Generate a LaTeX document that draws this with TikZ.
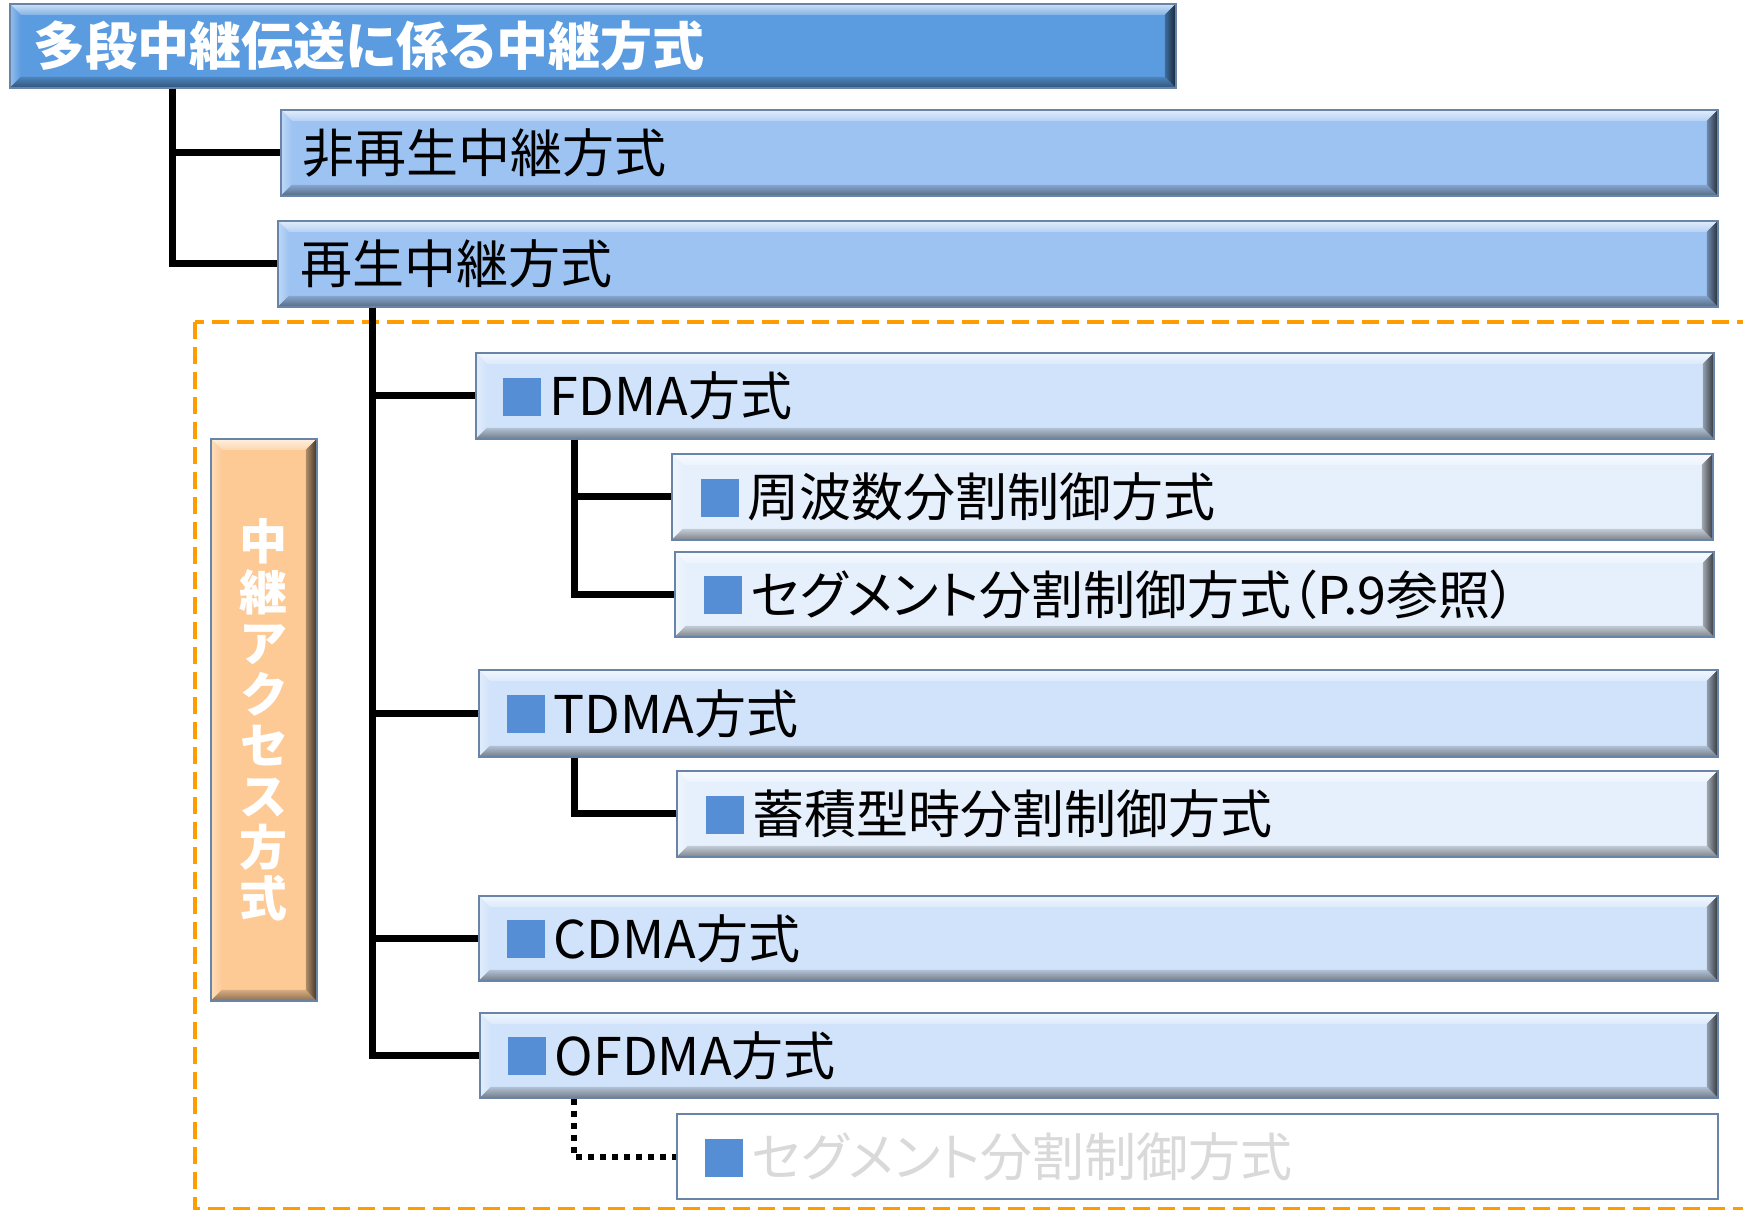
\documentclass[tikz,border=0pt]{standalone}
\usepackage{fontspec}
\setmainfont{Noto Sans CJK JP}[RawFeature=+palt]
\usetikzlibrary{calc}
\definecolor{cTop}{HTML}{5B9BDF}
\definecolor{cOne}{HTML}{9DC3F2}
\definecolor{cTwo}{HTML}{D1E3FA}
\definecolor{cThree}{HTML}{E6F0FC}
\definecolor{cSide}{HTML}{FDCA96}
\definecolor{bordc}{HTML}{6A84A8}
\definecolor{sqblue}{HTML}{558ED5}
\definecolor{greytxt}{HTML}{D9D9D9}
\definecolor{dashor}{HTML}{FF9C00}
\newcommand\bsq{\textcolor{sqblue}{\rule{38pt}{38pt}}\hspace{9pt}}
\tikzset{
  bevbox/.style={fill=#1, draw=bordc, line width=1.6pt,
    path picture={
      \path (path picture bounding box.north west) coordinate (pnw)
            (path picture bounding box.north east) coordinate (pne)
            (path picture bounding box.south west) coordinate (psw)
            (path picture bounding box.south east) coordinate (pse);
      \shade[top color=#1!30!white, bottom color=#1!75!white] (pnw) -- (pne) -- ([shift={(-11,11)}]pne) -- ([shift={(11,11)}]pnw) -- cycle;
      \shade[left color=#1!65!white, right color=#1] (pnw) -- ([shift={(11,11)}]pnw) -- ([shift={(11,-11)}]psw) -- (psw) -- cycle;
      \shade[top color=#1!85!black, bottom color=#1!55!black] (psw) -- ([shift={(11,-11)}]psw) -- ([shift={(-11,-11)}]pse) -- (pse) -- cycle;
      \shade[left color=#1!70!black, right color=#1!25!black] (pne) -- (pse) -- ([shift={(-11,-11)}]pse) -- ([shift={(-11,11)}]pne) -- cycle;
    }},
  boxtxt/.style={anchor=north west, inner ysep=0pt, text height=40pt, text depth=0pt,
    align=left, font=\fontsize{52}{60}\selectfont},
  conn/.style={line width=7pt, black},
  dotconn/.style={line width=6pt, black, dash pattern=on 6pt off 6pt},
}
\begin{document}
\begin{tikzpicture}[x=1pt,y=-1pt]
\useasboundingbox (0,0) rectangle (1743,1210);
\fill[white] (0,0) rectangle (1743,1210);
\begin{scope}
\clip (0,0) rectangle (1743,1210);
\draw[dashor, line width=4.5pt, dash pattern=on 17pt off 8pt] (195,322) rectangle (1800,1209);
\end{scope}

\node[bevbox=cTop, boxtxt, minimum width=1166, minimum height=84, inner xsep=24pt, text width=1118pt,
      font=\fontsize{52}{60}\selectfont\bfseries, text=white] (top) at (9,3) {多段中継伝送に係る中継方式};
\node[bevbox=cOne, boxtxt, minimum width=1437, minimum height=86, inner xsep=22pt, text width=1393pt] (nonregen) at (280,109) {非再生中継方式};
\node[bevbox=cOne, boxtxt, minimum width=1440, minimum height=86, inner xsep=23pt, text width=1394pt] (regen) at (277,220) {再生中継方式};

\node[bevbox=cTwo, boxtxt, minimum width=1238, minimum height=86, inner xsep=27pt, text width=1184pt] (fdma) at (475,352) {\bsq FDMA方式};
\node[bevbox=cThree, boxtxt, minimum width=1041, minimum height=86, inner xsep=29pt, text width=983pt] (freq) at (671,453) {\bsq 周波数分割制御方式};
\node[bevbox=cThree, boxtxt, minimum width=1039, minimum height=85, inner xsep=29pt, text width=981pt] (seg) at (674,551) {\bsq セグメント分割制御方式（P.9参照）};
\node[bevbox=cTwo, boxtxt, minimum width=1239, minimum height=87, inner xsep=28pt, text width=1183pt] (tdma) at (478,669) {\bsq TDMA方式};
\node[bevbox=cThree, boxtxt, minimum width=1041, minimum height=86, inner xsep=29pt, text width=983pt] (stor) at (676,770) {\bsq 蓄積型時分割制御方式};
\node[bevbox=cTwo, boxtxt, minimum width=1239, minimum height=85, inner xsep=28pt, text width=1183pt] (cdma) at (478,895) {\bsq CDMA方式};
\node[bevbox=cTwo, boxtxt, minimum width=1238, minimum height=85, inner xsep=28pt, text width=1182pt] (ofdma) at (479,1012) {\bsq OFDMA方式};
\node[boxtxt, fill=white, draw=bordc, line width=2pt, minimum width=1041, minimum height=85, inner xsep=28pt, text width=985pt, text=greytxt] (seg2) at (676,1113) {\bsq セグメント分割制御方式};

\node[bevbox=cSide, minimum width=106, minimum height=562, anchor=north west, inner sep=0pt, align=center,
      text=white, font=\fontsize{48}{51}\selectfont\bfseries] (side) at (210,438) {中\\継\\ア\\ク\\セ\\ス\\方\\式};

\draw[conn] ([xshift=163pt]top.south west) |- (nonregen.west);
\draw[conn] ([xshift=163pt]top.south west) |- (regen.west);
\draw[conn] ([xshift=95pt]regen.south west) |- (fdma.west);
\draw[conn] ([xshift=95pt]regen.south west) |- (tdma.west);
\draw[conn] ([xshift=95pt]regen.south west) |- (cdma.west);
\draw[conn] ([xshift=95pt]regen.south west) |- (ofdma.west);
\draw[conn] ([xshift=99pt]fdma.south west) |- (freq.west);
\draw[conn] ([xshift=99pt]fdma.south west) |- (seg.west);
\draw[conn] ([xshift=96pt]tdma.south west) |- (stor.west);
\draw[dotconn] ([xshift=95pt]ofdma.south west) |- (seg2.west);
\end{tikzpicture}
\end{document}
